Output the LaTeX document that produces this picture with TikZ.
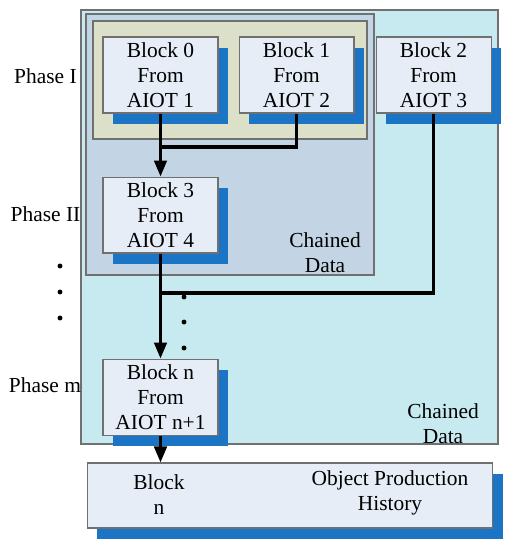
\documentclass[tikz,border=0pt]{standalone}
\usepackage{fontspec}
\setmainfont{Liberation Serif}
\usetikzlibrary{arrows.meta, positioning, shadows}
\definecolor{chainOuter}{HTML}{C6EAF0}
\definecolor{chainInner}{HTML}{C3D5E5}
\definecolor{phaseOne}{HTML}{DCE0C8}
\definecolor{blockFill}{HTML}{E6EDF7}
\definecolor{blockShade}{HTML}{1C75C4}
\definecolor{frame}{HTML}{707070}
\tikzset{
  font=\fontsize{12.2}{14.2}\selectfont,
  block/.style={rectangle, draw=frame, line width=0.6pt, fill=blockFill, align=center,
                minimum width=2.3cm, minimum height=1.52cm, inner sep=1pt,
                drop shadow={shadow xshift=0.2cm, shadow yshift=-0.22cm, fill=blockShade, opacity=1}},
  region/.style={draw=frame, line width=0.6pt},
  label/.style={align=center, inner sep=1pt},
  flow/.style={-{Triangle[length=0.32cm, width=0.25cm]}, line width=1.8pt},
  link/.style={line width=1.8pt},
  dot/.style={circle, fill=black, inner sep=0pt, minimum size=2.8pt},
}

\begin{document}
\begin{tikzpicture}[x=0.02cm, y=-0.02cm]
\useasboundingbox (0,0) rectangle (514,550);

% --- nested chained-data regions ---
\draw[region, fill=chainOuter] (81,10) rectangle (498,444);
\draw[region, fill=chainInner] (86,14) rectangle (374,275);
\draw[region, fill=phaseOne]   (93,21) rectangle (367,139);

% --- blocks ---
\node[block] (b0) at (160.5,75) {Block 0\\From\\AIOT 1};
\node[block, right=0.4cm of b0]  (b1) {Block 1\\From\\AIOT 2};
\node[block, right=0.42cm of b1] (b2) {Block 2\\From\\AIOT 3};
\node[block, below=1.26cm of b0] (b3) {Block 3\\From\\AIOT 4};
\node[block, below=2.1cm of b3]  (bn) {Block n\\From\\AIOT n+1};

\node[block, minimum width=8.12cm, minimum height=1.3cm] (hist) at (290,495.5) {};
\node[label] (histblk) at (159,495) {Block\\n};
\node[label] (histtxt) at (390,493) {Object Production\\History};

\node[label] (innerlbl) at (325,253) {Chained\\Data};
\node[label] (outerlbl) at (443,424) {Chained\\Data};

% --- phase labels ---
\node[label] (ph1) at (45.5,76)  {Phase I};
\node[label] (ph2) at (45.5,214) {Phase II};
\node[label] (phm) at (45,385)   {Phase m};
\foreach \y [count=\i] in {266,292,318} \node[dot] (ld\i) at (60,\y) {};
\foreach \y [count=\i] in {297,322,348} \node[dot] (md\i) at (184,\y) {};

% --- connectors ---
\coordinate (j1) at (161,147);
\coordinate (j2) at (161,293);
\draw[link] (b1.south) |- (j1);
\draw[flow] (b0) -- (b3);
\draw[link] (b2.south) |- (j2);
\draw[flow] (b3) -- (bn);
\draw[flow] (bn) -- (bn.south |- hist.north);

\end{tikzpicture}
\end{document}
